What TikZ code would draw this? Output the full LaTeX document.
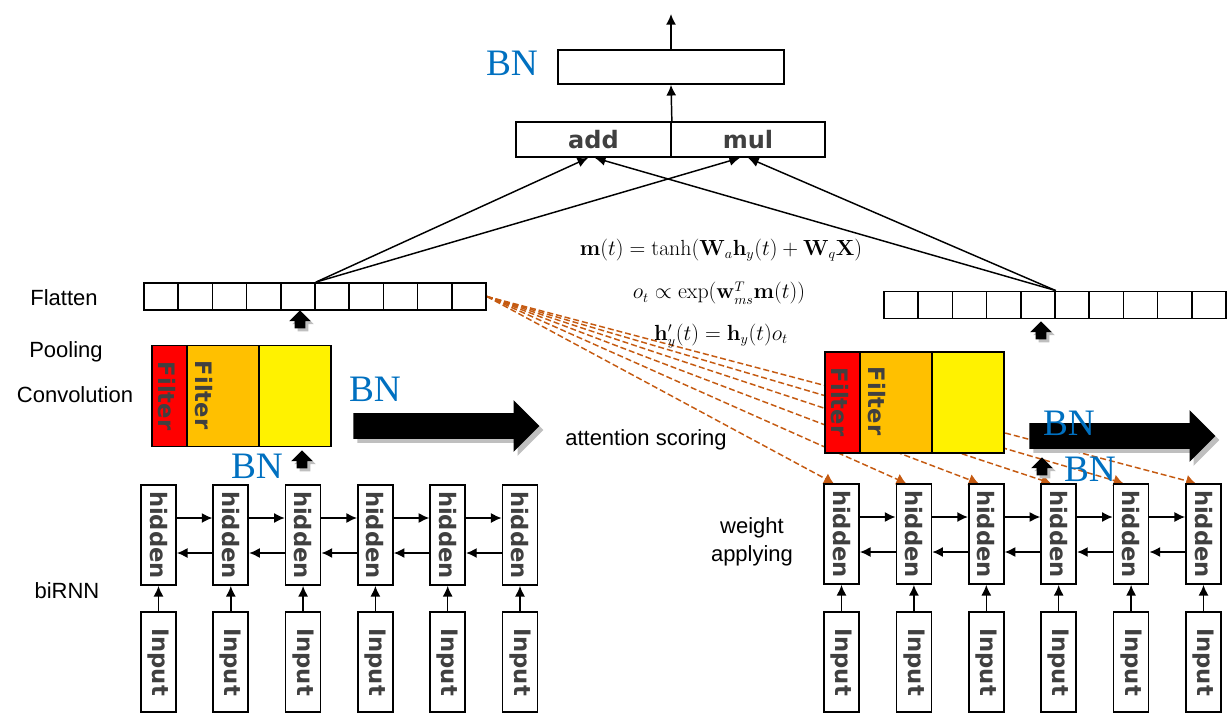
\documentclass[tikz,border=0pt]{standalone}
\usepackage[no-math]{fontspec}
\setmainfont{Liberation Sans}
\newfontfamily\bnfont{Liberation Serif}
\newfontfamily\boxfont{DejaVu Sans}
\usetikzlibrary{shapes,arrows.meta}
\usetikzlibrary{shadows}
\usetikzlibrary{backgrounds}
\usepackage{amsmath,amssymb}
\definecolor{bnblue}{RGB}{0,112,192}
\definecolor{attbrown}{RGB}{197,90,17}
\definecolor{filterorange}{RGB}{255,192,0}
\definecolor{boxtext}{RGB}{64,64,64}
\newdimen\px \px=0.75pt

\begin{document}
\begin{tikzpicture}
[x=0.75pt, y=-0.75pt,
hidbox/.style ={rectangle, draw=black, line width=1.3pt, fill=white,
inner sep=0pt, minimum width=35\px, minimum height=100\px,
text=boxtext, font=\boxfont\bfseries\fontsize{17}{17}\selectfont},
cellbox/.style ={rectangle, draw=black, line width=1.3pt, fill=white,
inner sep=0pt, minimum width=34.2\px, minimum height=27\px},
convbox/.style ={rectangle, draw=black, line width=1.3pt,
inner sep=0pt, minimum height=101\px},
opbox/.style ={rectangle, draw=black, line width=1.3pt, fill=white,
inner sep=0pt, minimum height=35\px,
text=boxtext, font=\boxfont\bfseries\fontsize{18}{18}\selectfont},
filtertext/.style ={inner sep=0pt, text=boxtext,
font=\boxfont\bfseries\fontsize{17}{17}\selectfont},
bnlabel/.style ={inner sep=0pt, text=bnblue,
font=\bnfont\fontsize{28}{28}\selectfont},
sidelabel/.style ={inner sep=0pt, font=\fontsize{16.5}{21}\selectfont},
formula/.style ={inner sep=0pt, font=\fontsize{16}{18}\selectfont},
uparrow/.style ={single arrow, shape border rotate=90, fill=black,
inner sep=5\px, minimum height=18\px, minimum width=21\px,
single arrow head extend=5.5\px,
drop shadow={shadow xshift=3\px, shadow yshift=-3\px, fill=black!25, opacity=1}},
bigarrow/.style ={single arrow, fill=black, inner xsep=0pt, inner ysep=12.5\px,
minimum height=186\px, minimum width=51\px, single arrow head extend=13\px,
drop shadow={shadow xshift=4\px, shadow yshift=-4\px, fill=black!25, opacity=1}},
flow/.style ={-{Latex[length=8pt,width=7.5pt]}, line width=1.1pt},
attline/.style ={-{Latex[length=7pt,width=9pt]}, draw=attbrown, line width=1.1pt,
dash pattern=on 4.5pt off 2.2pt}]

\useasboundingbox (0,0) rectangle (1232,718);

% biRNN rows
\foreach \i in {1,...,6} {
  \node (hidA-\i) [hidbox] at ({158.5+72.3*(\i-1)},535) {\rotatebox{-90}{hidden}};
  \node (inA-\i) [hidbox] at ({158.5+72.3*(\i-1)},662) {\rotatebox{-90}{Input}};
  \draw[flow] (inA-\i) -- (hidA-\i);
  \node (hidB-\i) [hidbox] at ({841.5+72.4*(\i-1)},534) {\rotatebox{-90}{hidden}};
  \node (inB-\i) [hidbox] at ({841.5+72.4*(\i-1)},662) {\rotatebox{-90}{Input}};
  \draw[flow] (inB-\i) -- (hidB-\i);
}
\foreach \i/\j in {1/2,2/3,3/4,4/5,5/6} {
  \draw[flow] ([yshift=12.75pt]hidA-\i.east) -- ([yshift=12.75pt]hidA-\j.west);
  \draw[flow] ([yshift=-13.5pt]hidA-\j.west) -- ([yshift=-13.5pt]hidA-\i.east);
  \draw[flow] ([yshift=12.75pt]hidB-\i.east) -- ([yshift=12.75pt]hidB-\j.west);
  \draw[flow] ([yshift=-13.5pt]hidB-\j.west) -- ([yshift=-13.5pt]hidB-\i.east);
}

% convolution blocks
\node (redA) [convbox, fill=red, minimum width=35\px] at (169.5,396) {};
\node (orgA) [convbox, fill=filterorange, minimum width=72\px] at (223,396) {};
\node (yelA) [convbox, fill=yellow, minimum width=72\px] at (295,396) {};
\node (filtA1) [filtertext] at (167,396) {\rotatebox{-90}{Filter}};
\node (filtA2) [filtertext] at (204,395) {\rotatebox{-90}{Filter}};
\node (redB) [convbox, fill=red, minimum width=35\px] at (842.5,402.5) {};
\node (orgB) [convbox, fill=filterorange, minimum width=72\px] at (896,402.5) {};
\node (yelB) [convbox, fill=yellow, minimum width=72\px] at (968,402.5) {};
\node (filtB1) [filtertext] at (840,402) {\rotatebox{-90}{Filter}};
\node (filtB2) [filtertext] at (877,401) {\rotatebox{-90}{Filter}};

% flatten rows
\foreach \i in {1,...,10} {
  \node (flatA-\i) [cellbox] at ({161.1+34.2*(\i-1)},296.5) {};
  \node (flatB-\i) [cellbox] at ({901.1+34.2*(\i-1)},305) {};
}

% block arrows
\node (upA1) [uparrow] at (300,322) {};
\node (upA2) [uparrow] at (302,462) {};
\node (upB1) [uparrow] at (1041,333) {};
\node (upB2) [uparrow] at (1042,469) {};
\node (bnA) [bigarrow] at (440,426) {};
\node (bnB) [bigarrow] at (1116,436) {};

% merge and output
\node (add) [opbox, minimum width=155\px] at (593.5,139.5) {add};
\node (mul) [opbox, minimum width=154\px] at (748,139.5) {mul};
\node (outbox) [opbox, minimum width=226\px, minimum height=34\px] at (671,67) {};
\coordinate (out) at (671,14);
\draw[flow] (add.north east) -- (outbox.south);
\draw[flow] (outbox) -- (out);
\draw[flow] (flatA-5.north east) -- ([xshift=-4pt]add.south);
\draw[flow] (flatA-5.north east) -- ([xshift=-6pt]mul.south);
\draw[flow] (flatB-5.north east) -- ([xshift=1pt]add.south);
\draw[flow] (flatB-5.north east) -- (mul.south);

% attention lines
\begin{scope}[on background layer]
\foreach \i in {1,...,6}
  \draw[attline] (flatA-10.east) -- ([xshift=-6pt]hidB-\i.north);
\end{scope}

% labels
\node (bnTop) [bnlabel] at (512,63) {BN};
\node (bnConvA) [bnlabel] at (375,389) {BN};
\node (bnHidA) [bnlabel] at (257,466) {BN};
\node (bnConvB) [bnlabel] at (1069,423) {BN};
\node (bnHidB) [bnlabel] at (1090,469) {BN};
\node (lflat) [sidelabel] at (64,298) {Flatten};
\node (lpool) [sidelabel] at (66,352) {Pooling};
\node (lconv) [sidelabel] at (75,395) {Convolution};
\node (lrnn) [sidelabel] at (67,591) {biRNN};
\node (lscore) [sidelabel] at (646,440) {attention scoring};
\node (lapply) [sidelabel, align=center] at (752,542) {weight\\applying};
\node (eqm) [formula] at (721,250)
  {\scalebox{0.95}{$\mathbf{m}(t)=\tanh(\mathbf{W}_{a}\mathbf{h}_{y}(t)+\mathbf{W}_{q}\mathbf{X})$}};
\node (eqo) [formula] at (719,293)
  {\scalebox{0.95}{$o_{t}\propto\exp(\mathbf{w}_{ms}^{T}\mathbf{m}(t))$}};
\node (eqh) [formula] at (721,336)
  {\scalebox{0.95}{$\mathbf{h}'_{y}(t)=\mathbf{h}_{y}(t)o_{t}$}};
\end{tikzpicture}
\end{document}
